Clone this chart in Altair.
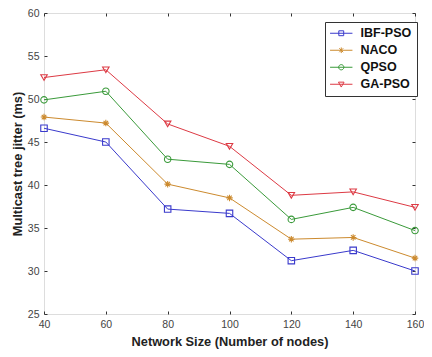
import altair as alt
import pandas as pd

nodes = [40, 60, 80, 100, 120, 140, 160]
series = ["IBF-PSO", "NACO", "QPSO", "GA-PSO"]
ibf_pso = [46.6, 45.0, 37.2, 36.7, 31.2, 32.4, 30.0]
naco = [47.9, 47.2, 40.1, 38.5, 33.7, 33.9, 31.5]
qpso = [49.9, 50.9, 43.0, 42.4, 36.0, 37.4, 34.7]
ga_pso = [52.5, 53.4, 47.1, 44.5, 38.8, 39.2, 37.4]
x_ticks = [40, 60, 80, 100, 120, 140, 160]
y_ticks = [25, 30, 35, 40, 45, 50, 55, 60]

colors = ["#3a3acc", "#cc8a2e", "#3a9a3a", "#dd3a44"]
aster = "M0,-1V1M-1,0H1M-0.7,-0.7L0.7,0.7M-0.7,0.7L0.7,-0.7"
shapes = ["square", aster, "circle", "triangle-down"]

rows = []
for name, vals in zip(series, [ibf_pso, naco, qpso, ga_pso]):
    for n, v in zip(nodes, vals):
        rows.append({"nodes": n, "jitter": v, "method": name})
df = pd.DataFrame(rows)

xdom = [40, 160]
ydom = [25, 60]

# legend symbol paths: line stub + marker
u = 3.2
leg_paths = [
    f"M-{u},0H{u}M-0.7,-0.7H0.7V0.7H-0.7Z",
    f"M-{u},0H{u}M0,-0.8V0.8M-0.56,-0.56L0.56,0.56M-0.56,0.56L0.56,-0.56",
    f"M-{u},0H{u}M-0.75,0A0.75,0.75 0 1,0 0.75,0A0.75,0.75 0 1,0 -0.75,0Z",
    f"M-{u},0H{u}M-0.8,-0.6H0.8L0,0.8Z",
]

color_scale = alt.Scale(domain=series, range=colors)
leg_shape_scale = alt.Scale(domain=series, range=leg_paths)

font = "Liberation Sans"

x_main = alt.X(
    "nodes:Q",
    scale=alt.Scale(domain=xdom, nice=False, zero=False),
    axis=alt.Axis(values=x_ticks, title="Network Size (Number of nodes)", ticks=False,
                  domain=False, grid=False, labelPadding=5, labelColor="#444444",
                  labelFont=font, labelFontSize=10.5, titleFont=font, titleFontSize=12.8,
                  titleFontWeight="bold", titleColor="#222222", titlePadding=6,
                  labelFlush=False),
)
y_main = alt.Y(
    "jitter:Q",
    scale=alt.Scale(domain=ydom, nice=False, zero=False),
    axis=alt.Axis(values=y_ticks, title="Multicast tree jitter (ms)", ticks=False,
                  domain=False, grid=False, labelPadding=5, labelColor="#444444",
                  labelFont=font, labelFontSize=10.5, titleFont=font, titleFontSize=12.8,
                  titleFontWeight="bold", titleColor="#222222", titlePadding=3,
                  labelFlush=False),
)

def noaxis_x():
    return alt.X("nodes:Q", scale=alt.Scale(domain=xdom, nice=False, zero=False), axis=None)

def noaxis_y():
    return alt.Y("jitter:Q", scale=alt.Scale(domain=ydom, nice=False, zero=False), axis=None)

leg_props = dict(
    title=None, orient="none", legendX=281, legendY=9,
    labelFont=font, labelFontSize=12.5, labelFontWeight="bold", labelColor="#111111",
    symbolSize=49, symbolStrokeWidth=1, symbolOffset=5, labelOffset=13,
    rowPadding=4, padding=5, strokeColor="#333333", fillColor="white",
    symbolOpacity=1, symbolFillColor="transparent",
)

lines = alt.Chart(df).mark_line(strokeWidth=1).encode(
    x=x_main, y=y_main,
    color=alt.Color("method:N", scale=color_scale, legend=alt.Legend(**leg_props)),
    detail="method:N",
)

point_layers = []
for name, shp in zip(series, shapes):
    point_layers.append(
        alt.Chart(df).transform_filter(alt.datum.method == name)
        .mark_point(filled=False, size=42, strokeWidth=1.1, opacity=1, shape=shp)
        .encode(
            x=noaxis_x(), y=noaxis_y(),
            color=alt.Color("method:N", scale=color_scale, legend=None),
        )
    )

legend_layer = alt.Chart(df).mark_point(filled=False, opacity=0).encode(
    x=noaxis_x(), y=noaxis_y(),
    color=alt.Color("method:N", scale=color_scale, legend=None),
    shape=alt.Shape("method:N", scale=leg_shape_scale, legend=None),
)

tick_style = dict(labels=False, domain=False, grid=False, ticks=True, tickSize=3,
                  tickColor="#333333", tickWidth=1, offset=-3, title=None,
                  minExtent=0, maxExtent=0)

ticks_a = alt.Chart(df).mark_point(opacity=0).encode(
    x=alt.X("nodes:Q", scale=alt.Scale(domain=xdom, nice=False, zero=False),
            axis=alt.Axis(values=x_ticks, orient="bottom", **tick_style)),
    y=alt.Y("jitter:Q", scale=alt.Scale(domain=ydom, nice=False, zero=False),
            axis=alt.Axis(values=y_ticks, orient="left", **tick_style)),
)
ticks_b = alt.Chart(df).mark_point(opacity=0).encode(
    x=alt.X("nodes:Q", scale=alt.Scale(domain=xdom, nice=False, zero=False),
            axis=alt.Axis(values=x_ticks, orient="top", **tick_style)),
    y=alt.Y("jitter:Q", scale=alt.Scale(domain=ydom, nice=False, zero=False),
            axis=alt.Axis(values=y_ticks, orient="right", **tick_style)),
)

chart = alt.layer(lines, *point_layers, legend_layer, ticks_a, ticks_b).resolve_scale(
    x="independent", y="independent"
).properties(
    width=371, height=301, autosize=alt.AutoSizeParams(type="none"),
    padding={"left": 36, "top": 5, "right": 9, "bottom": 35},
).configure_view(
    stroke="#333333", strokeWidth=1.2
).configure(background="white")

chart.save("out.html", embed_options={"renderer": "svg", "actions": False})
